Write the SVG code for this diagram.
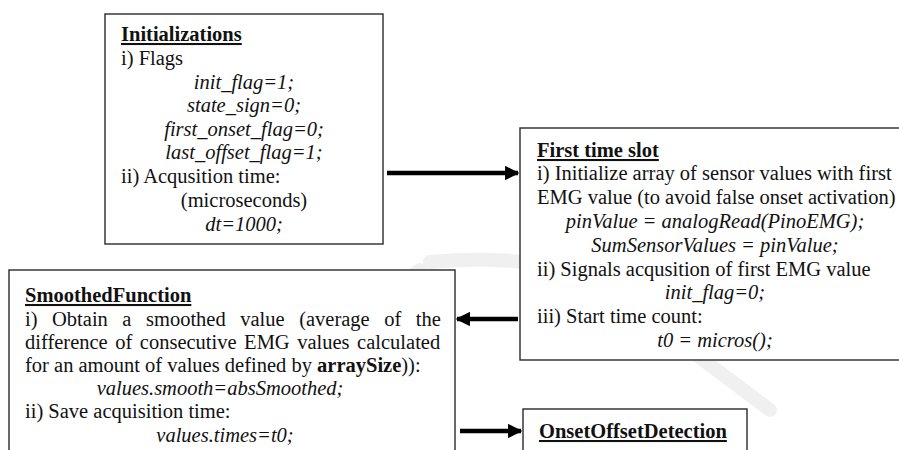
<svg xmlns="http://www.w3.org/2000/svg" width="899" height="450" viewBox="0 0 899 450">
  <style>
    .box { fill: #ffffff; stroke: #2a2a2a; stroke-width: 1.4; }
    text { font-family: "Liberation Serif", "Times New Roman", serif; font-size: 20.5px; fill: #111111; }
    .title { font-weight: bold; text-decoration: underline; }
    .it { font-style: italic; }
    .mid { text-anchor: middle; }
    .b { font-weight: bold; }
    .wire { stroke: #000000; stroke-width: 4.5; fill: none; }
    .mark { fill: none; stroke: #f0f0f0; stroke-width: 14; stroke-linecap: round; }
  </style>
  <defs>
    <marker id="head" viewBox="0 0 10 10" refX="9" refY="5" markerWidth="3.2" markerHeight="3.2" markerUnits="strokeWidth" orient="auto">
      <path d="M0,0 L10,5 L0,10 Z" fill="#000000"/>
    </marker>
  </defs>

  <rect width="899" height="450" fill="#ffffff"/>

  <!-- faint background swoosh -->
  <g id="backdrop">
    <path class="mark" d="M250,450 Q330,330 420,270"/>
    <path class="mark" d="M430,262 Q560,250 640,300"/>
    <path class="mark" d="M690,350 Q730,380 770,410"/>
  </g>

  <g id="initializations">
    <rect class="box" x="105" y="14" width="278" height="230"/>
    <text class="title" x="121" y="41">Initializations</text>
    <text x="121" y="65">i) Flags</text>
    <text class="it mid" x="244" y="89">init_flag=1;</text>
    <text class="it mid" x="244" y="112">state_sign=0;</text>
    <text class="it mid" x="244" y="136">first_onset_flag=0;</text>
    <text class="it mid" x="244" y="159">last_offset_flag=1;</text>
    <text x="121" y="183">ii) Acqusition time:</text>
    <text class="mid" x="244" y="207">(microseconds)</text>
    <text class="it mid" x="244" y="231">dt=1000;</text>
  </g>

  <g id="first-time-slot">
    <rect class="box" x="520" y="128" width="395" height="232"/>
    <text class="title" x="537" y="157">First time slot</text>
    <text x="537" y="180">i) Initialize array of sensor values with first</text>
    <text x="537" y="204">EMG value (to avoid false onset activation)</text>
    <text class="it mid" x="715" y="228">pinValue = analogRead(PinoEMG);</text>
    <text class="it mid" x="715" y="252">SumSensorValues = pinValue;</text>
    <text x="537" y="276">ii) Signals acqusition of first EMG value</text>
    <text class="it mid" x="715" y="299">init_flag=0;</text>
    <text x="537" y="323">iii) Start time count:</text>
    <text class="it mid" x="715" y="347">t0 = micros();</text>
  </g>

  <g id="smoothed-function">
    <rect class="box" x="9" y="270" width="446" height="200"/>
    <text class="title" x="25" y="302">SmoothedFunction</text>
    <text x="25" y="326" word-spacing="9.4">i) Obtain a smoothed value (average of the</text>
    <text x="25" y="349" word-spacing="2.4">difference of consecutive EMG values calculated</text>
    <text x="25" y="372">for an amount of values defined by <tspan class="b">arraySize</tspan>)):</text>
    <text class="it mid" x="220" y="395">values.smooth=absSmoothed;</text>
    <text x="25" y="418">ii) Save acquisition time:</text>
    <text class="it mid" x="225" y="442">values.times=t0;</text>
  </g>

  <g id="onset-offset-detection">
    <rect class="box" x="523" y="409" width="224" height="60"/>
    <text class="title" x="539" y="438">OnsetOffsetDetection</text>
  </g>

  <g id="connectors">
    <line class="wire" x1="387" y1="173" x2="518" y2="173" marker-end="url(#head)"/>
    <line class="wire" x1="518" y1="319" x2="457" y2="319" marker-end="url(#head)"/>
    <line class="wire" x1="460" y1="431" x2="521" y2="431" marker-end="url(#head)"/>
  </g>
</svg>
